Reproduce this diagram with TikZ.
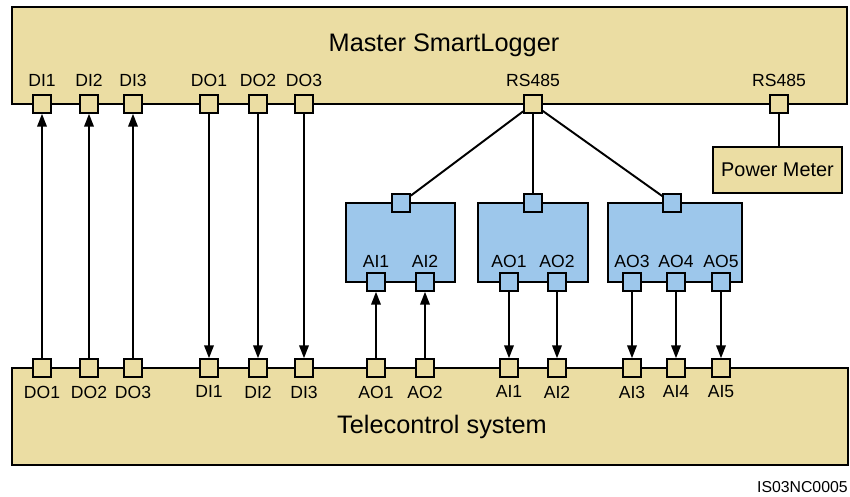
\documentclass[tikz,border=0pt]{standalone}
\usepackage{fontspec}
\setmainfont{Liberation Sans}
\definecolor{LoggerTan}{RGB}{235,221,163}
\definecolor{BoxBlue}{RGB}{157,199,235}
\usetikzlibrary{arrows.meta,positioning}

\begin{document}
\begin{tikzpicture}[
    x=0.02cm, y=-0.02cm,
    unit/.style={draw, line width=1.4pt, fill=LoggerTan, inner sep=0pt},
    iobox/.style={draw, line width=1.3pt, fill=BoxBlue, inner sep=0pt, minimum height=1.58cm},
    port/.style={draw, line width=1.1pt, fill=LoggerTan, minimum size=0.35cm, inner sep=0pt},
    bport/.style={port, fill=BoxBlue},
    lbl/.style={font=\fontsize{10}{12}\selectfont, inner sep=1pt},
    title/.style={font=\fontsize{14.4}{17}\selectfont, inner sep=0pt},
    arr/.style={-{Triangle[length=2.6mm, width=1.9mm]}, line width=1.1pt},
    wire/.style={line width=1.1pt}
]
    \useasboundingbox (0,0) rectangle (850,497);

    % main units
    \node[unit, minimum width=16.7cm, minimum height=1.94cm] (master) at (429.5,55.5) {};
    \node[title] (masterlbl) at (444,45) {Master SmartLogger};
    \node[unit, minimum width=16.72cm, minimum height=1.94cm] (tele) at (430,416.5) {};
    \node[title] (telelbl) at (442,427) {Telecontrol system};
    \node[unit, minimum width=2.58cm, minimum height=0.92cm, font=\fontsize{11.3}{13}\selectfont] (meter) at (777.5,170) {Power Meter};

    % I/O boxes
    \node[iobox, minimum width=2.18cm] (io1) at (400.5,242.5) {};
    \node[iobox, minimum width=2.2cm] (io2) at (533,242.5) {};
    \node[iobox, minimum width=2.68cm] (io3) at (675,242.5) {};

    % ports of the SmartLogger
    \node[port] (mDI1) at (42,104) {};
    \node[port] (mDI2) at (89,104) {};
    \node[port] (mDI3) at (133,104) {};
    \node[port] (mDO1) at (209,104) {};
    \node[port] (mDO2) at (258,104) {};
    \node[port] (mDO3) at (304,104) {};
    \node[port] (mRS) at (533,104) {};
    \node[port] (mRSb) at (779,104) {};
    \node[lbl, above=0.12cm of mDI1] (mDI1l) {DI1};
    \node[lbl, above=0.12cm of mDI2] (mDI2l) {DI2};
    \node[lbl, above=0.12cm of mDI3] (mDI3l) {DI3};
    \node[lbl, above=0.12cm of mDO1] (mDO1l) {DO1};
    \node[lbl, above=0.12cm of mDO2] (mDO2l) {DO2};
    \node[lbl, above=0.12cm of mDO3] (mDO3l) {DO3};
    \node[lbl, above=0.12cm of mRS] (mRSl) {RS485};
    \node[lbl, above=0.12cm of mRSb] (mRSbl) {RS485};

    % ports of the telecontrol system
    \node[port] (tDO1) at (42,368) {};
    \node[port] (tDO2) at (89,368) {};
    \node[port] (tDO3) at (133,368) {};
    \node[port] (tDI1) at (209,368) {};
    \node[port] (tDI2) at (258,368) {};
    \node[port] (tDI3) at (304,368) {};
    \node[port] (tAO1) at (376,368) {};
    \node[port] (tAO2) at (425,368) {};
    \node[port] (tAI1) at (509,368) {};
    \node[port] (tAI2) at (557,368) {};
    \node[port] (tAI3) at (632,368) {};
    \node[port] (tAI4) at (676,368) {};
    \node[port] (tAI5) at (721,368) {};
    \node[lbl, below=0.12cm of tDO1] (tDO1l) {DO1};
    \node[lbl, below=0.12cm of tDO2] (tDO2l) {DO2};
    \node[lbl, below=0.12cm of tDO3] (tDO3l) {DO3};
    \node[lbl, below=0.12cm of tDI1] (tDI1l) {DI1};
    \node[lbl, below=0.12cm of tDI2] (tDI2l) {DI2};
    \node[lbl, below=0.12cm of tDI3] (tDI3l) {DI3};
    \node[lbl, below=0.12cm of tAO1] (tAO1l) {AO1};
    \node[lbl, below=0.12cm of tAO2] (tAO2l) {AO2};
    \node[lbl, below=0.12cm of tAI1] (tAI1l) {AI1};
    \node[lbl, below=0.12cm of tAI2] (tAI2l) {AI2};
    \node[lbl, below=0.12cm of tAI3] (tAI3l) {AI3};
    \node[lbl, below=0.12cm of tAI4] (tAI4l) {AI4};
    \node[lbl, below=0.12cm of tAI5] (tAI5l) {AI5};

    % ports of the I/O boxes
    \node[bport] (io1top) at (401,203) {};
    \node[bport] (io2top) at (533,203) {};
    \node[bport] (io3top) at (672,203) {};
    \node[bport] (bAI1) at (376,282) {};
    \node[bport] (bAI2) at (425,282) {};
    \node[bport] (bAO1) at (509,282) {};
    \node[bport] (bAO2) at (557,282) {};
    \node[bport] (bAO3) at (632,282) {};
    \node[bport] (bAO4) at (676,282) {};
    \node[bport] (bAO5) at (721,282) {};
    \node[lbl, above=0.06cm of bAI1] (bAI1l) {AI1};
    \node[lbl, above=0.06cm of bAI2] (bAI2l) {AI2};
    \node[lbl, above=0.06cm of bAO1] (bAO1l) {AO1};
    \node[lbl, above=0.06cm of bAO2] (bAO2l) {AO2};
    \node[lbl, above=0.06cm of bAO3] (bAO3l) {AO3};
    \node[lbl, above=0.06cm of bAO4] (bAO4l) {AO4};
    \node[lbl, above=0.06cm of bAO5] (bAO5l) {AO5};

    % RS485 wiring
    \draw[wire] (mRS) -- (io1top);
    \draw[wire] (mRS) -- (io2top);
    \draw[wire] (mRS) -- (io3top);
    \draw[wire] (mRSb) -- (mRSb |- meter.north);

    % digital signals
    \draw[arr] (tDO1) -- (mDI1);
    \draw[arr] (tDO2) -- (mDI2);
    \draw[arr] (tDO3) -- (mDI3);
    \draw[arr] (mDO1) -- (tDI1);
    \draw[arr] (mDO2) -- (tDI2);
    \draw[arr] (mDO3) -- (tDI3);

    % analog signals
    \draw[arr] (tAO1) -- (bAI1);
    \draw[arr] (tAO2) -- (bAI2);
    \draw[arr] (bAO1) -- (tAI1);
    \draw[arr] (bAO2) -- (tAI2);
    \draw[arr] (bAO3) -- (tAI3);
    \draw[arr] (bAO4) -- (tAI4);
    \draw[arr] (bAO5) -- (tAI5);

    \node[font=\fontsize{9}{11}\selectfont, anchor=east, inner sep=0pt] (figid) at (848,487) {IS03NC0005};
\end{tikzpicture}
\end{document}
